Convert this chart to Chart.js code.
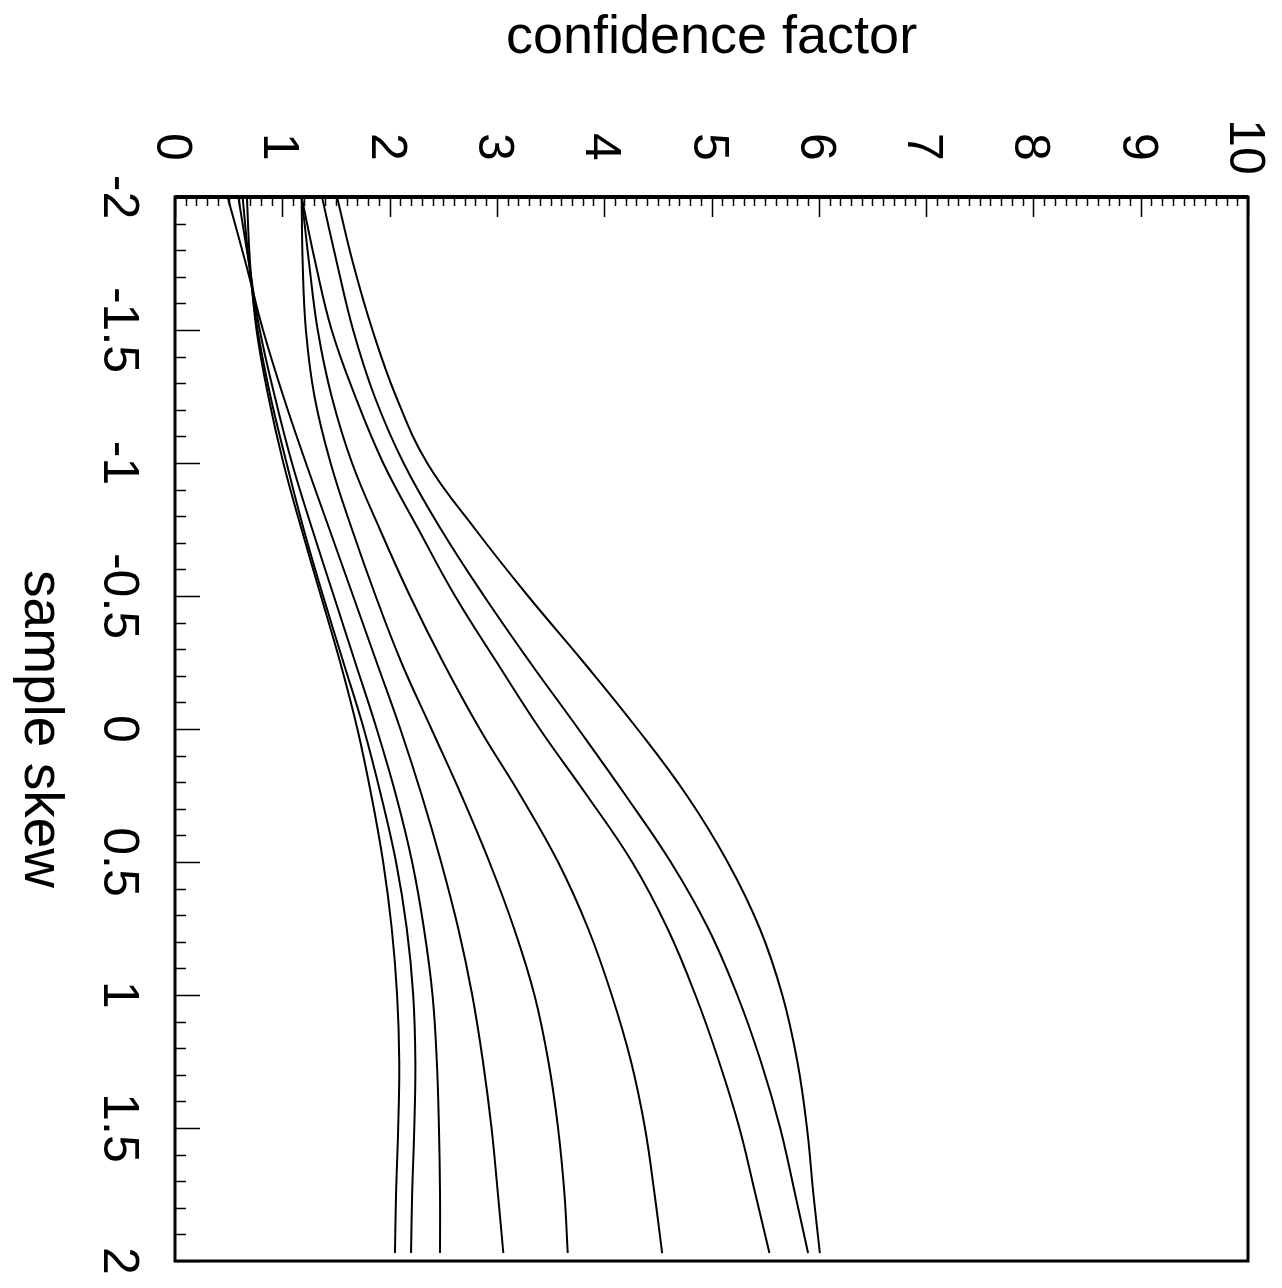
<!DOCTYPE html>
<html>
<head>
<meta charset="utf-8">
<script src="https://cdn.jsdelivr.net/npm/chart.js@4.4.1/dist/chart.umd.min.js"></script>
<style>
    html, body { margin: 0; padding: 0; background: #fff; }
    canvas { display: block; }
</style>
</head>
<body>
<canvas id="myChart" width="1282" height="1288"></canvas>
<script>
// sample skew (vertical axis, -2 at the top)
const skew = [-2, -1.75, -1.5, -1.25, -1, -0.75, -0.5, -0.25, 0, 0.25, 0.5, 0.75, 1, 1.25, 1.5, 1.75, 1.97];

// confidence factor of each curve
const curve1 = [0.67, 0.70, 0.76, 0.87, 1.01, 1.18, 1.36, 1.54, 1.70, 1.83, 1.94, 2.02, 2.07, 2.09, 2.08, 2.06, 2.05];
const curve2 = [0.63, 0.69, 0.77, 0.89, 1.04, 1.20, 1.38, 1.57, 1.76, 1.92, 2.06, 2.16, 2.22, 2.24, 2.23, 2.21, 2.20];
const curve3 = [0.59, 0.69, 0.79, 0.93, 1.09, 1.28, 1.48, 1.68, 1.88, 2.06, 2.21, 2.32, 2.40, 2.44, 2.46, 2.47, 2.47];
const curve4 = [0.49, 0.66, 0.82, 1.01, 1.22, 1.44, 1.66, 1.88, 2.10, 2.30, 2.48, 2.64, 2.77, 2.87, 2.95, 3.01, 3.06];
const curve5 = [1.18, 1.19, 1.22, 1.30, 1.45, 1.65, 1.87, 2.11, 2.39, 2.67, 2.93, 3.16, 3.35, 3.48, 3.57, 3.63, 3.66];
const curve6 = [1.18, 1.25, 1.33, 1.46, 1.65, 1.91, 2.19, 2.50, 2.84, 3.22, 3.57, 3.85, 4.07, 4.25, 4.38, 4.47, 4.54];
const curve7 = [1.18, 1.31, 1.46, 1.68, 1.94, 2.27, 2.61, 3.00, 3.40, 3.84, 4.26, 4.59, 4.85, 5.07, 5.26, 5.41, 5.54];
const curve8 = [1.37, 1.51, 1.66, 1.86, 2.13, 2.48, 2.88, 3.31, 3.76, 4.20, 4.62, 4.97, 5.24, 5.46, 5.64, 5.78, 5.90];
const curve9 = [1.51, 1.66, 1.84, 2.06, 2.35, 2.80, 3.29, 3.81, 4.31, 4.77, 5.15, 5.45, 5.66, 5.80, 5.89, 5.95, 6.01];

// tick labels
const xTickLabels = ['0', '1', '2', '3', '4', '5', '6', '7', '8', '9', '10'];
const yTickLabels = ['-2', '-1.5', '-1', '-0.5', '0', '0.5', '1', '1.5', '2'];

const fontFamily = '"Liberation Sans", Arial, Helvetica, sans-serif';

function toPoints(values) {
    return values.map((v, i) => ({ x: v, y: skew[i] }));
}

const curves = [curve1, curve2, curve3, curve4, curve5, curve6, curve7, curve8, curve9];

const data = {
    datasets: curves.map((c, i) => ({
        label: 'curve ' + (i + 1),
        data: toPoints(c),
        borderColor: '#000',
        borderWidth: 2,
        pointRadius: 0,
        fill: false,
        tension: 0.4
    }))
};

// text turned a quarter turn clockwise
function drawRotated(ctx, text, x, y) {
    ctx.save();
    ctx.translate(x, y);
    ctx.rotate(Math.PI / 2);
    ctx.fillText(text, 0, 0);
    ctx.restore();
}

// box, inside ticks, rotated labels and titles
const framePlugin = {
    id: 'frame',
    afterDraw(chart) {
        const { ctx, chartArea: area } = chart;
        const xs = chart.scales.x;
        const ys = chart.scales.y;
        ctx.save();
        ctx.strokeStyle = '#000';
        ctx.lineWidth = 3;
        ctx.strokeRect(area.left, area.top, area.right - area.left, area.bottom - area.top);
        ctx.lineWidth = 4;
        ctx.beginPath();
        ctx.moveTo(area.left, area.top);
        ctx.lineTo(area.right, area.top);
        ctx.stroke();

        ctx.lineWidth = 1.5;
        ctx.beginPath();
        for (let k = 0; k <= 100; k++) {
            const px = Math.round(xs.getPixelForValue(k / 10)) + 0.5;
            const len = k % 10 === 0 ? 20 : 9;
            ctx.moveTo(px, area.top);
            ctx.lineTo(px, area.top + len);
        }
        for (let k = 0; k <= 40; k++) {
            const py = Math.round(ys.getPixelForValue(-2 + k / 10)) + 0.5;
            const len = k % 5 === 0 ? 25 : 11;
            ctx.moveTo(area.left, py);
            ctx.lineTo(area.left + len, py);
        }
        ctx.stroke();

        ctx.fillStyle = '#000';
        ctx.textAlign = 'center';
        ctx.textBaseline = 'alphabetic';
        ctx.font = '50px ' + fontFamily;
        xTickLabels.forEach(t => {
            drawRotated(ctx, t, xs.getPixelForValue(Number(t)) - 18, 147);
        });
        yTickLabels.forEach(t => {
            drawRotated(ctx, t, 104, ys.getPixelForValue(Number(t)));
        });

        ctx.font = '54px ' + fontFamily;
        ctx.fillText('confidence factor', (area.left + area.right) / 2, 53);
        ctx.font = '55px ' + fontFamily;
        drawRotated(ctx, 'sample skew', 25, (area.top + area.bottom) / 2);
        ctx.restore();
    }
};

const options = {
    responsive: false,
    animation: false,
    devicePixelRatio: 1,
    indexAxis: 'y',
    layout: {
        padding: { left: 175, top: 197, right: 34, bottom: 27 }
    },
    plugins: {
        legend: { display: false },
        tooltip: { enabled: false }
    },
    scales: {
        x: { type: 'linear', min: 0, max: 10, position: 'top', display: false },
        y: { type: 'linear', min: -2, max: 2, reverse: true, display: false }
    }
};

const ctx = document.getElementById('myChart').getContext('2d');
const myChart = new Chart(ctx, {
    type: 'line',
    data: data,
    options: options,
    plugins: [framePlugin]
});
</script>
</body>
</html>
